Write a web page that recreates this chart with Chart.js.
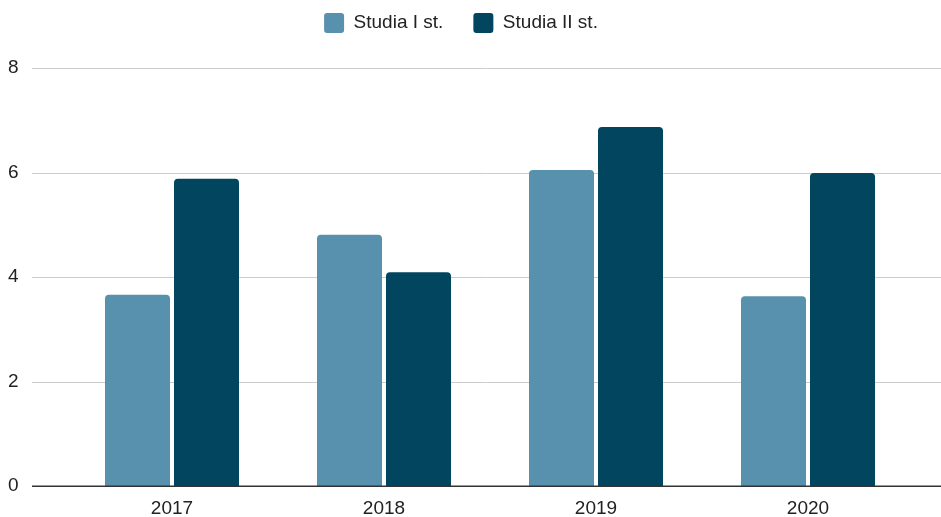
<!DOCTYPE html>
<html>
<head>
<meta charset="utf-8">
<script src="https://cdn.jsdelivr.net/npm/chart.js@4.4.1/dist/chart.umd.min.js"></script>
<style>
  html, body { margin: 0; padding: 0; background: #ffffff; }
  #wrap { width: 941px; height: 517px; position: relative; }
</style>
</head>
<body>
<div id="wrap"><canvas id="c" width="941" height="517"></canvas></div>
<script>
const categories = ["2017", "2018", "2019", "2020"];
const seriesNames = ["Studia I st.", "Studia II st."];
const studiaI = [3.66, 4.81, 6.05, 3.63];
const studiaII = [5.88, 4.09, 6.87, 5.99];
const yTicks = [0, 2, 4, 6, 8];

const colors = ["#5891ae", "#01455f"];
const FONT = "'Liberation Sans', Arial, sans-serif";

const gridPlugin = {
  id: 'wideGrid',
  beforeDatasetsDraw(chart) {
    const y = chart.scales.y;
    const ctx = chart.ctx;
    ctx.save();
    ctx.strokeStyle = '#cccccc';
    ctx.lineWidth = 1;
    yTicks.forEach(v => {
      if (v === 0) return;
      const py = Math.round(y.getPixelForValue(v)) + 0.5;
      ctx.beginPath();
      ctx.moveTo(32, py);
      ctx.lineTo(941, py);
      ctx.stroke();
    });
    ctx.restore();
  },
  afterDatasetsDraw(chart) {
    const y = chart.scales.y;
    const ctx = chart.ctx;
    ctx.save();
    ctx.strokeStyle = '#333333';
    ctx.lineWidth = 1.5;
    const py = y.getPixelForValue(0) + 0.25;
    ctx.beginPath();
    ctx.moveTo(32, py);
    ctx.lineTo(941, py);
    ctx.stroke();
    ctx.restore();
  }
};

const legendFitPlugin = {
  id: 'legendFit',
  beforeInit(chart) {
    const origFit = chart.legend.fit;
    chart.legend.fit = function () {
      origFit.bind(chart.legend)();
      this.height = 68;
    };
  },
  afterLayout(chart) {
    chart.legend.top = -17;
  }
};

new Chart(document.getElementById('c'), {
  type: 'bar',
  data: {
    labels: categories,
    datasets: [
      { label: seriesNames[0], data: studiaI, backgroundColor: colors[0], borderRadius: { topLeft: 4, topRight: 4 }, borderSkipped: 'bottom' },
      { label: seriesNames[1], data: studiaII, backgroundColor: colors[1], borderRadius: { topLeft: 4, topRight: 4 }, borderSkipped: 'bottom' }
    ]
  },
  options: {
    responsive: false,
    animation: false,
    devicePixelRatio: 1,
    layout: { padding: { left: 8, right: 27, top: 0, bottom: 0 } },
    datasets: { bar: { categoryPercentage: 0.651, barPercentage: 0.942 } },
    plugins: {
      legend: {
        position: 'top',
        labels: {
          boxWidth: 20,
          boxHeight: 20,
          padding: 30,
          color: '#222222',
          font: { family: FONT, size: 19 },
          generateLabels(chart) {
            return chart.data.datasets.map((ds, i) => ({
              text: ds.label,
              fillStyle: ds.backgroundColor,
              strokeStyle: ds.backgroundColor,
              lineWidth: 0,
              borderRadius: 3,
              fontColor: '#222222',
              datasetIndex: i,
              hidden: false
            }));
          }
        }
      },
      tooltip: { enabled: false }
    },
    scales: {
      x: {
        grid: { display: false, drawTicks: false },
        border: { display: false },
        ticks: { color: '#222222', font: { family: FONT, size: 19 }, padding: 11 },
        afterFit(scale) { scale.height = 31; }
      },
      y: {
        min: 0,
        max: 8,
        afterBuildTicks(scale) { scale.ticks = yTicks.map(v => ({ value: v })); },
        grid: { display: false, drawTicks: false },
        border: { display: false },
        ticks: { color: '#222222', font: { family: FONT, size: 19 }, padding: 0, crossAlign: 'far' },
        afterFit(scale) { scale.width = 58; }
      }
    }
  },
  plugins: [gridPlugin, legendFitPlugin]
});
</script>
</body>
</html>
